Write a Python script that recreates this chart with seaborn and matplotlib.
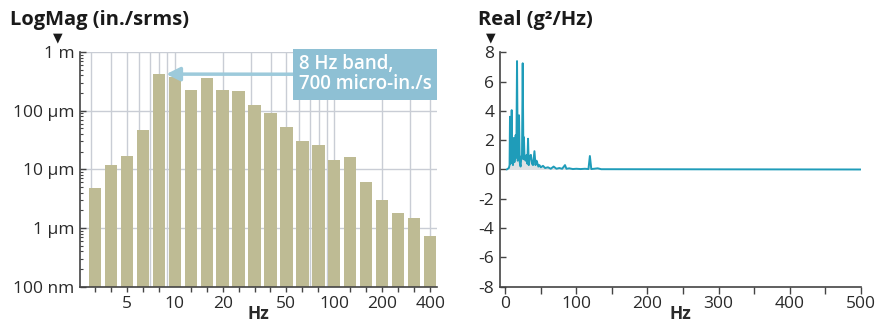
import matplotlib
matplotlib.use('Agg')
import matplotlib.pyplot as plt
from matplotlib.ticker import FixedLocator, FuncFormatter, MultipleLocator, NullFormatter
import seaborn as sns

# 1/3-octave band centres (Hz) and band level (in./s rms)
band_hz = [3.162, 3.981, 5.012, 6.310, 7.943, 10.0, 12.59, 15.85, 19.95, 25.12,
           31.62, 39.81, 50.12, 63.10, 79.43, 100.0, 125.9, 158.5, 199.5, 251.2,
           316.2, 398.1]
band_mag = [4.9e-6, 11.9e-6, 16.9e-6, 47e-6, 414e-6, 373e-6, 229e-6, 354e-6, 229e-6, 220e-6,
            127e-6, 92e-6, 53e-6, 30.6e-6, 26.4e-6, 14.4e-6, 16.3e-6, 6.05e-6, 3.06e-6, 1.83e-6,
            1.50e-6, 0.74e-6]
x_labels = [5, 10, 20, 50, 100, 200, 400]
y_ticks = [1e-7, 1e-6, 1e-5, 1e-4, 1e-3]
y_labels = ['100 nm', '1 µm', '10 µm', '100 µm', '1 m']

# PSD trace (Hz, g^2/Hz)
psd_hz = [2, 5, 6, 6.6, 7.3, 8.2, 9.0, 9.8, 10.8, 11.8, 12.8, 13.8, 14.6, 15.5, 16.5,
          17.5, 18.5, 19.3, 20.3, 21.5, 22.5, 23.5, 24.5, 25.5, 26.2, 27, 28.5, 30, 31,
          32, 33, 34.5, 36, 37.5, 39, 41, 42.5, 44, 45, 46.5, 48, 50, 53, 56, 60, 64, 68,
          72, 76, 80, 84, 86, 90, 95, 100, 106, 112, 117, 119, 121, 125, 130, 135, 500]
psd_val = [0.0, 0.1, 0.3, 3.6, 0.4, 1.0, 4.05, 0.6, 0.3, 2.15, 0.5, 0.9, 2.35, 0.8, 7.4,
           0.6, 1.0, 3.7, 0.5, 0.2, 0.8, 1.0, 7.25, 0.7, 2.2, 0.9, 0.6, 1.0, 0.4,
           2.1, 0.3, 0.9, 1.0, 0.4, 0.3, 1.25, 0.3, 0.6, 0.45, 0.2, 0.3, 0.15, 0.25, 0.1, 0.15, 0.05, 0.2,
           0.05, 0.1, 0.05, 0.3, 0.05, 0.08, 0.03, 0.05, 0.03, 0.05, 0.03, 0.92, 0.03, 0.05, 0.08, 0.02, 0.0]

sns.set_theme(style='ticks')
plt.rcParams['font.family'] = ['Open Sans', 'DejaVu Sans']
plt.rcParams['axes.unicode_minus'] = False

text_col = '#2a2a2a'
spine_col = '#444444'
grid_col = '#c9cdd5'
bar_col = '#bebb94'
psd_col = '#1f9cb9'
tick_fs = 12.5

fig = plt.figure(figsize=(8.89, 3.23), dpi=100)
ax1 = fig.add_axes([0.090, 0.1124, 0.4016, 0.7266])
ax2 = fig.add_axes([0.5624, 0.1124, 0.4057, 0.7257])

# ---- left: band levels on log-log axes
sns.barplot(x=band_hz, y=band_mag, native_scale=True, log_scale=(True, False),
            color=bar_col, saturation=1, width=0.77, linewidth=0, ax=ax1)
ax1.set_yscale('log')
ax1.set_xlim(2.55, 440)
ax1.set_ylim(1e-7, 1e-3)
ax1.set_axisbelow(True)

grid_pos = [3, 4, 5, 6, 7, 8, 9, 10, 20, 30, 40, 50, 60, 70, 80, 90, 100, 200, 300, 400]
ax1.xaxis.set_major_locator(FixedLocator(grid_pos))
ax1.xaxis.set_major_formatter(FuncFormatter(lambda v, p: f'{v:g}' if v in x_labels else ''))
ax1.xaxis.set_minor_locator(FixedLocator(band_hz))
ax1.xaxis.set_minor_formatter(NullFormatter())
ax1.tick_params(axis='x', which='major', length=0, pad=7, labelsize=tick_fs, colors=text_col)
ax1.tick_params(axis='x', which='minor', length=3.5, width=1, direction='out', color=spine_col)
ax1.set_yticks(y_ticks)
ax1.set_yticklabels(y_labels)
ax1.yaxis.set_minor_formatter(NullFormatter())
ax1.tick_params(axis='y', which='major', length=4.5, width=1, direction='in', pad=4,
                labelsize=tick_fs, colors=text_col)
ax1.tick_params(axis='y', which='minor', length=2.5, width=0.8, direction='in', color=spine_col)
ax1.tick_params(axis='y', which='major', color=spine_col)
ax1.grid(True, which='major', axis='both', color=grid_col, lw=1)
ax1.grid(False, which='minor')

ax1.annotate('8 Hz band,\n700 micro-in./s', xy=(8.85, 4.2e-4), xytext=(0.613, 0.905),
             textcoords='axes fraction', ha='left', va='center', color='white',
             fontsize=13.5, fontweight='semibold', linespacing=1.0, annotation_clip=False,
             bbox=dict(boxstyle='square,pad=0.3', fc='#8ec0d4', ec='none'),
             arrowprops=dict(arrowstyle='-|>,head_length=0.6,head_width=0.3',
                             color='#9dcadb', lw=2.5, shrinkA=0, shrinkB=0))

# ---- right: PSD trace
ax2.fill_between(psd_hz, 0, psd_val, color='#dfe1e3', lw=0)
sns.lineplot(x=psd_hz, y=psd_val, ax=ax2, color=psd_col, lw=1.4)
ax2.set_xlim(-7.5, 500)
ax2.set_ylim(-8, 8)
ax2.xaxis.set_major_locator(MultipleLocator(100))
ax2.xaxis.set_minor_locator(MultipleLocator(50))
ax2.yaxis.set_major_locator(MultipleLocator(2))
ax2.tick_params(axis='x', which='both', length=5, width=1, direction='out', color=spine_col)
ax2.tick_params(axis='x', which='major', pad=2, labelsize=tick_fs, colors=text_col)
ax2.tick_params(axis='x', which='major', color=spine_col)
ax2.tick_params(axis='y', length=4, width=1, direction='in', pad=4, labelsize=tick_fs,
                colors=text_col)
ax2.tick_params(axis='y', color=spine_col)

for ax in (ax1, ax2):
    sns.despine(ax=ax)
    for s in ('left', 'bottom'):
        ax.spines[s].set_color(spine_col)
        ax.spines[s].set_linewidth(1.2)
    ax.set_xlabel('Hz', fontsize=12.5, fontweight='bold', color=text_col, labelpad=-5)
    ax.set_ylabel('')

# axis titles with the little marker underneath
fig.text(10 / 889, 1 - 25 / 323, 'LogMag (in./srms)', fontsize=14.5, fontweight='bold',
         color='#1a1a1a', va='baseline')
fig.text(58 / 889, 1 - 38 / 323, '▼', fontsize=9, ha='center', va='center', color='#1a1a1a',
         family='DejaVu Sans')
fig.text(478 / 889, 1 - 25 / 323, 'Real (g²/Hz)', fontsize=14.5, fontweight='bold',
         color='#1a1a1a', va='baseline')
fig.text(491 / 889, 1 - 38 / 323, '▼', fontsize=9, ha='center', va='center', color='#1a1a1a',
         family='DejaVu Sans')

fig.savefig('out.png', dpi=100)
